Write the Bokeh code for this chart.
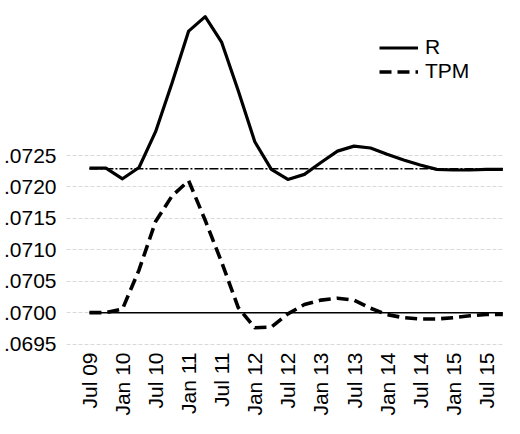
import math
from bokeh.plotting import figure
from bokeh.models import Range1d, FixedTicker, CustomJSTickFormatter, Legend, LegendItem
from bokeh.embed import file_html
from bokeh.resources import INLINE

# quarterly observations, Q3 2009 .. Q4 2015
x_idx = list(range(26))
r_vals = [0.07230, 0.07230, 0.07213, 0.07231, 0.07288, 0.07366, 0.07448, 0.07471,
          0.07430, 0.07353, 0.07272, 0.07228, 0.07212, 0.07220, 0.07239, 0.07257,
          0.07265, 0.07262, 0.07252, 0.07243, 0.07235, 0.07228, 0.07227, 0.07227,
          0.07228, 0.07228]
tpm_vals = [0.07000, 0.07000, 0.07006, 0.07068, 0.07145, 0.07186, 0.07210, 0.07147,
            0.07080, 0.07008, 0.06976, 0.06977, 0.06998, 0.07013, 0.07020, 0.07023,
            0.07020, 0.07007, 0.06997, 0.06992, 0.06990, 0.06990, 0.06992, 0.06995,
            0.06997, 0.06997]
r_steady = [0.07229] * 26
tpm_steady = [0.07000] * 26

x_tick_pos = [0, 2, 4, 6, 8, 10, 12, 14, 16, 18, 20, 22, 24]
x_tick_labels = ["Jul 09", "Jan 10", "Jul 10", "Jan 11", "Jul 11", "Jan 12", "Jul 12",
                 "Jan 13", "Jul 13", "Jan 14", "Jul 14", "Jan 15", "Jul 15"]
y_tick_pos = [0.0695, 0.0700, 0.0705, 0.0710, 0.0715, 0.0720, 0.0725]
y_tick_labels = [".0695", ".0700", ".0705", ".0710", ".0715", ".0720", ".0725"]

FONT = "Liberation Sans"

p = figure(width=504, height=418, output_backend="svg", toolbar_location=None,
           x_range=Range1d(-1.387, 25.1), y_range=Range1d(0.069414, 0.074967),
           min_border_left=0, min_border_right=0, min_border_top=0, min_border_bottom=0)
p.outline_line_color = None
p.background_fill_color = "white"
p.border_fill_color = "white"

p.xgrid.grid_line_color = None
p.ygrid.grid_line_color = "#d9d9d9"
p.ygrid.grid_line_dash = "4 2"
p.ygrid.grid_line_width = 1

p.yaxis.ticker = FixedTicker(ticks=y_tick_pos)
p.yaxis.formatter = CustomJSTickFormatter(args=dict(pos=y_tick_pos, labs=y_tick_labels), code="""
    let best = 0;
    for (let i = 0; i < pos.length; i++) {
        if (Math.abs(pos[i] - tick) < Math.abs(pos[best] - tick)) best = i;
    }
    return labs[best];
""")
p.yaxis.axis_line_color = None
p.yaxis.major_tick_line_color = None
p.yaxis.minor_tick_line_color = None
p.yaxis.major_tick_out = 0
p.yaxis.major_tick_in = 0
p.yaxis.axis_label_standoff = 0
p.yaxis.major_label_standoff = 10
p.yaxis.major_label_text_font = FONT
p.yaxis.major_label_text_font_size = "21px"
p.yaxis.major_label_text_color = "black"

p.xaxis.ticker = FixedTicker(ticks=x_tick_pos)
p.xaxis.major_label_overrides = {pos: lab for pos, lab in zip(x_tick_pos, x_tick_labels)}
p.xaxis.major_label_orientation = math.pi / 2
p.xaxis.axis_line_color = None
p.xaxis.major_tick_line_color = None
p.xaxis.minor_tick_line_color = None
p.xaxis.major_tick_out = 0
p.xaxis.major_tick_in = 0
p.xaxis.axis_label_standoff = 0
p.xaxis.major_label_standoff = 3
p.xaxis.major_label_text_font = FONT
p.xaxis.major_label_text_font_size = "21px"
p.xaxis.major_label_text_color = "black"

p.line(x_idx, tpm_steady, line_color="black", line_width=1.5)
p.line(x_idx, r_steady, line_color="black", line_width=1.3, line_dash="9 2 2 2")
r_line = p.line(x_idx, r_vals, line_color="black", line_width=3.2, line_join="round")
t_line = p.line(x_idx, tpm_vals, line_color="black", line_width=3.6, line_dash="12 6")

legend = Legend(items=[LegendItem(label="R", renderers=[r_line]),
                       LegendItem(label="TPM", renderers=[t_line])],
                location=(313, 266), margin=0, padding=0, spacing=0,
                glyph_width=39, glyph_height=21, label_standoff=7,
                label_text_font=FONT, label_text_font_size="21px",
                label_text_color="black",
                border_line_alpha=0, background_fill_alpha=0)
p.add_layout(legend, "center")

open("out.html", "w").write(file_html(p, INLINE))
